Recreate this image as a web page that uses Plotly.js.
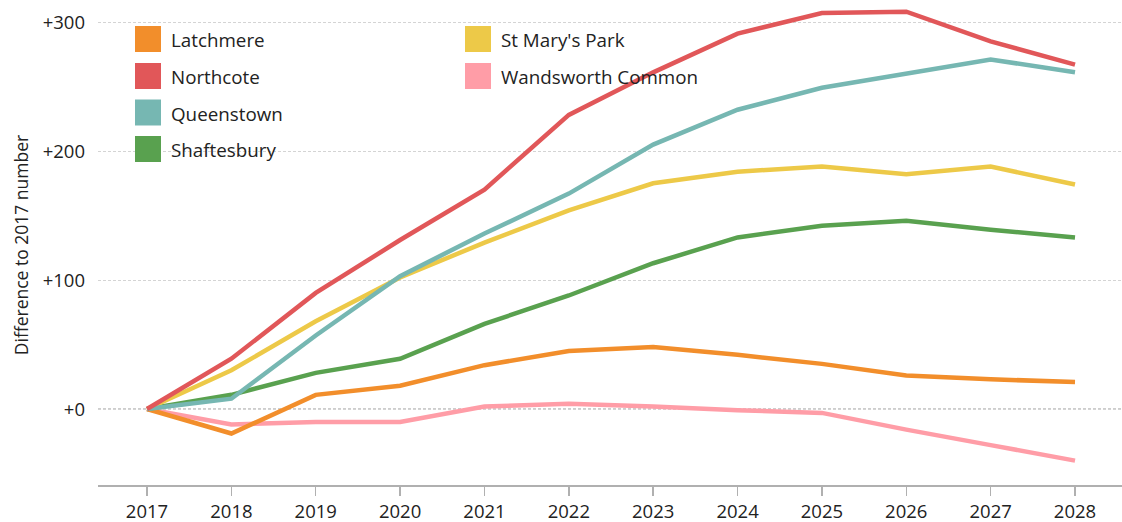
<!DOCTYPE html>
<html>
<head>
<meta charset="utf-8">
<script src="https://cdn.plot.ly/plotly-3.0.1.min.js"></script>
<style>html,body{margin:0;padding:0;background:#fff;} #chart{width:1122px;height:522px;}</style>
</head>
<body>
<div id="chart"></div>
<script>
const years = [2017, 2018, 2019, 2020, 2021, 2022, 2023, 2024, 2025, 2026, 2027, 2028];

const names = ["Latchmere", "Northcote", "Queenstown", "Shaftesbury", "St Mary's Park", "Wandsworth Common"];
const colors = ["#F28E2B", "#E15759", "#76B7B2", "#59A14F", "#EDC948", "#FF9DA7"];

const latchmere        = [0, -19, 11, 18, 34, 45, 48, 42, 35, 26, 23, 21];
const northcote        = [0, 39, 90, 131, 170, 228, 261, 291, 307, 308, 285, 267];
const queenstown       = [0, 8, 57, 103, 136, 167, 205, 232, 249, 260, 271, 261];
const shaftesbury      = [0, 11, 28, 39, 66, 88, 113, 133, 142, 146, 139, 133];
const stMarysPark      = [0, 30, 68, 102, 129, 154, 175, 184, 188, 182, 188, 174];
const wandsworthCommon = [0, -12, -10, -10, 2, 4, 2, -1, -3, -16, -28, -40];

const series = [latchmere, northcote, queenstown, shaftesbury, stMarysPark, wandsworthCommon];

const yTicks = [0, 100, 200, 300];
const yTitle = "Difference to 2017 number";

const FONT = "'Segoe UI', 'Open Sans', 'Noto Sans', sans-serif";
const FS = 18.5;

// draw order: back to front as in reference
const order = [5, 0, 3, 4, 2, 1];
const traces = order.map(i => ({
  type: "scatter",
  mode: "lines",
  name: names[i],
  x: years,
  y: series[i],
  line: {color: colors[i], width: 4.5},
  showlegend: false,
  hoverinfo: "x+y+name"
}));

// manual legend: two columns of square swatches
const shapes = [{
  type: "line", xref: "paper", yref: "y", x0: 0, x1: 1, y0: 0, y1: 0,
  line: {color: "#999999", width: 1, dash: "3px,2px"}, layer: "below"
}];
const annotations = [];
const colX = [135, 465];
const textX = [169, 499];
const rowY = [26, 63, 99.5, 136];
const W = 1122, H = 522, L = 98, R = 0, T = 5, B = 37;
const pw = W - L - R, ph = H - T - B;
const toPX = px => (px - L) / pw;
const toPY = py => 1 - (py - T) / ph;
names.forEach((n, i) => {
  const c = i < 4 ? 0 : 1;
  const r = i < 4 ? i : i - 4;
  shapes.push({
    type: "rect", xref: "paper", yref: "paper",
    x0: toPX(colX[c]), x1: toPX(colX[c] + 26),
    y0: toPY(rowY[r] + 26), y1: toPY(rowY[r]),
    fillcolor: colors[i], line: {width: 0}
  });
  annotations.push({
    xref: "paper", yref: "paper", x: toPX(textX[c]), y: toPY(rowY[r] + 14),
    xanchor: "left", yanchor: "middle", showarrow: false,
    text: n, font: {family: FONT, size: 18.8, color: "#222222"}
  });
});

const layout = {
  width: W, height: H,
  margin: {l: L, r: R, t: T, b: B, pad: 0},
  paper_bgcolor: "#ffffff", plot_bgcolor: "#ffffff",
  font: {family: FONT, size: FS, color: "#222222"},
  showlegend: false,
  xaxis: {
    range: [2016.419, 2028.557],
    tickmode: "array", tickvals: years, ticktext: years.map(String),
    showgrid: false, zeroline: false,
    showline: true, linecolor: "#b0b0b0", linewidth: 1.5,
    ticks: "outside", ticklen: 9, tickcolor: "#b0b0b0", tickwidth: 1.5,
    tickfont: {family: FONT, size: FS, color: "#222222"},
    fixedrange: true
  },
  yaxis: {
    range: [-58.9, 313.2],
    tickmode: "array", tickvals: yTicks, ticktext: yTicks.map(v => "+" + v),
    showgrid: true, gridcolor: "#d4d4d4", gridwidth: 1, griddash: "3px,2px",
    zeroline: false, showline: false, ticks: "",
    ticklabelstandoff: 12,
    tickfont: {family: FONT, size: FS, color: "#222222"},
    title: {text: yTitle, font: {family: FONT, size: 17.5, color: "#222222"}, standoff: 9},
    fixedrange: true
  },
  shapes: shapes,
  annotations: annotations
};

Plotly.newPlot("chart", traces, layout, {displayModeBar: false, staticPlot: true});
</script>
</body>
</html>
